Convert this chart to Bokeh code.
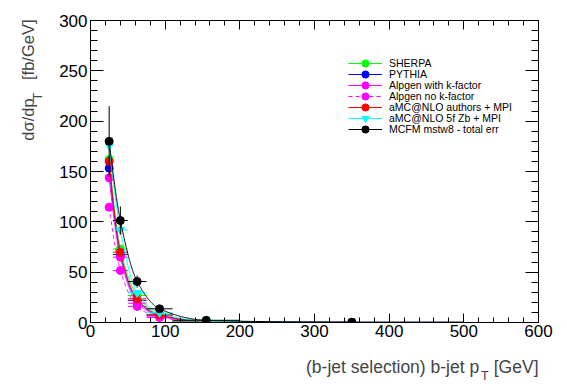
import numpy as np
from bokeh.plotting import figure
from bokeh.models import (Range1d, LinearAxis, SingleIntervalTicker, Legend,
                          LegendItem, Label, CustomJSTickFormatter)
from bokeh.embed import file_html
from bokeh.resources import INLINE

# ---------------- data ----------------
bin_centers = [25, 40, 62.5, 92.5, 155, 350]
bin_halfwidths = [5, 10, 12.5, 17.5, 45, 150]

sherpa = [162, 73, 26.8, 8.0, 1.2, 0.15]
pythia = [153.3, 67.5, 22.0, 6.8, 1.0, 0.12]
alpgen_k = [143.7, 64.9, 19.2, 6.5, 0.9, 0.10]
alpgen_nok = [114.5, 51.6, 16.0, 5.0, 0.7, 0.08]
amc_authors = [160, 69.8, 23.5, 7.5, 1.0, 0.12]
amc_5f = [175.8, 92.0, 29.5, 9.5, 1.5, 0.15]
mcfm = [180, 101.3, 40.7, 13.6, 2.2, 0.20]

mc_err = [3, 2, 1, 0.5, 0.2, 0.05]
mcfm_err = [35, 14, 6, 2.5, 0.5, 0.1]

series_labels = ["SHERPA", "PYTHIA", "Alpgen with k-factor", "Alpgen no k-factor",
                 "aMC@NLO authors + MPI", "aMC@NLO 5f Zb + MPI", "MCFM mstw8 - total err"]

FONT = "Liberation Sans"
NB = "\u00a0"


def pchip(x, y, n=60):
    """Monotone smooth curve through the given points (drawing only)."""
    x = np.asarray(x, float)
    y = np.asarray(y, float)
    h = np.diff(x)
    d = np.diff(y) / h
    m = np.zeros_like(y)
    for k in range(1, len(x) - 1):
        if d[k - 1] * d[k] > 0:
            w1 = 2 * h[k] + h[k - 1]
            w2 = h[k] + 2 * h[k - 1]
            m[k] = (w1 + w2) / (w1 / d[k - 1] + w2 / d[k])

    def end(h0, h1, d0, d1):
        mm = ((2 * h0 + h1) * d0 - h0 * d1) / (h0 + h1)
        if np.sign(mm) != np.sign(d0):
            mm = 0.0
        elif np.sign(d0) != np.sign(d1) and abs(mm) > 3 * abs(d0):
            mm = 3 * d0
        return mm

    m[0] = end(h[0], h[1], d[0], d[1])
    m[-1] = end(h[-1], h[-2], d[-1], d[-2])
    xs, ys = [], []
    for k in range(len(x) - 1):
        t = np.linspace(0, 1, n, endpoint=(k == len(x) - 2))
        h00 = 2 * t**3 - 3 * t**2 + 1
        h10 = t**3 - 2 * t**2 + t
        h01 = -2 * t**3 + 3 * t**2
        h11 = t**3 - t**2
        xs.extend(x[k] + t * h[k])
        ys.extend(h00 * y[k] + h10 * h[k] * m[k] + h01 * y[k + 1] + h11 * h[k] * m[k + 1])
    return xs, ys


p = figure(width=567, height=384, x_range=Range1d(0, 600), y_range=Range1d(0, 300),
           output_backend="svg", toolbar_location=None,
           min_border_left=90, min_border_right=29, min_border_top=20, min_border_bottom=62)
p.xgrid.visible = False
p.ygrid.visible = False
p.outline_line_color = "black"
p.background_fill_color = "white"
p.border_fill_color = "white"

# axes
p.xaxis.ticker = SingleIntervalTicker(interval=100, num_minor_ticks=5)
p.yaxis.ticker = SingleIntervalTicker(interval=50, num_minor_ticks=5)
for ax in p.xaxis:
    ax.major_tick_in = 9
    ax.major_tick_out = 0
    ax.minor_tick_in = 5
    ax.minor_tick_out = 0
    ax.major_label_text_font = FONT
    ax.major_label_text_font_size = "17px"
    ax.major_label_text_color = "black"
    ax.major_label_standoff = 2
    ax.axis_line_color = "black"
for ax in p.yaxis:
    ax.major_tick_in = 13
    ax.major_tick_out = 0
    ax.minor_tick_in = 7
    ax.minor_tick_out = 0
    ax.major_label_text_font = FONT
    ax.major_label_text_font_size = "17px"
    ax.major_label_text_color = "black"
    ax.major_label_standoff = 3
    ax.axis_line_color = "black"

blank = CustomJSTickFormatter(code="return ''")
top_ax = LinearAxis(ticker=SingleIntervalTicker(interval=100, num_minor_ticks=5),
                    major_tick_in=9, major_tick_out=0, minor_tick_in=5, minor_tick_out=0,
                    formatter=blank, major_label_text_font_size="1px",
                    major_label_standoff=0)
right_ax = LinearAxis(ticker=SingleIntervalTicker(interval=50, num_minor_ticks=5),
                      major_tick_in=13, major_tick_out=0, minor_tick_in=7, minor_tick_out=0,
                      formatter=CustomJSTickFormatter(code="return ''"),
                      major_label_text_font_size="1px", major_label_standoff=0)
p.add_layout(top_ax, "above")
p.add_layout(right_ax, "right")

styles = [
    (sherpa, "#00ff00", "solid", "circle", mc_err),
    (pythia, "#0000ff", "solid", "circle", mc_err),
    (alpgen_k, "#ff00ff", "solid", "circle", mc_err),
    (alpgen_nok, "#ff00ff", "4 3", "circle", mc_err),
    (amc_authors, "#ff0000", "solid", "circle", mc_err),
    (amc_5f, "#00ffff", "solid", "inverted_triangle", mc_err),
    (mcfm, "#000000", "solid", "circle", mcfm_err),
]

xc = np.array(bin_centers, float)
xw = np.array(bin_halfwidths, float)
for i, ((vals, col, dash, marker, err), lab) in enumerate(zip(styles, series_labels)):
    v = np.array(vals, float)
    e = np.array(err, float)
    p.segment(x0=xc - xw, x1=xc + xw, y0=v, y1=v, line_color=col, line_width=1)
    p.segment(x0=xc, x1=xc, y0=v - e, y1=v + e, line_color=col, line_width=1)
    cx, cy = pchip(xc, v)
    lr = p.line(cx, cy, line_color=col, line_width=1, line_dash=dash)
    sr = p.scatter(xc, v, marker=marker, size=8, fill_color=col, line_color=col)
    # one legend box per entry, stacked with an 11 px pitch
    leg = Legend(items=[LegendItem(label=lab, renderers=[lr, sr])],
                 location=(258, 250 - 11 * i), orientation="vertical",
                 glyph_width=34, glyph_height=18, label_height=18, label_standoff=7,
                 spacing=0, padding=0, margin=0, border_line_alpha=0,
                 background_fill_alpha=0, label_text_font=FONT,
                 label_text_font_size="10.5px", label_text_color="black")
    p.add_layout(leg)

# axis titles (in the side panels so they are not clipped to the frame)
p.add_layout(Label(x=600, y=-44.2, text="(b-jet selection) b-jet p" + NB * 3 + "[GeV]",
                   text_align="right", text_baseline="alphabetic", text_font=FONT,
                   text_font_size="17.5px"), "below")
p.add_layout(Label(x=523, y=-53.5, text="T", text_align="left",
                   text_baseline="alphabetic", text_font=FONT, text_font_size="12.5px"), "below")

p.add_layout(Label(x=-84, y=301, text="d\u03c3/dp" + NB * 4 + "[fb/GeV]", angle=np.pi / 2,
                   text_align="right", text_baseline="alphabetic", text_font=FONT,
                   text_font_size="16.5px"), "left")
p.add_layout(Label(x=-71.5, y=220.5, text="T", angle=np.pi / 2, text_align="left",
                   text_baseline="alphabetic", text_font=FONT, text_font_size="13px"), "left")

open("out.html", "w").write(file_html(p, INLINE))
